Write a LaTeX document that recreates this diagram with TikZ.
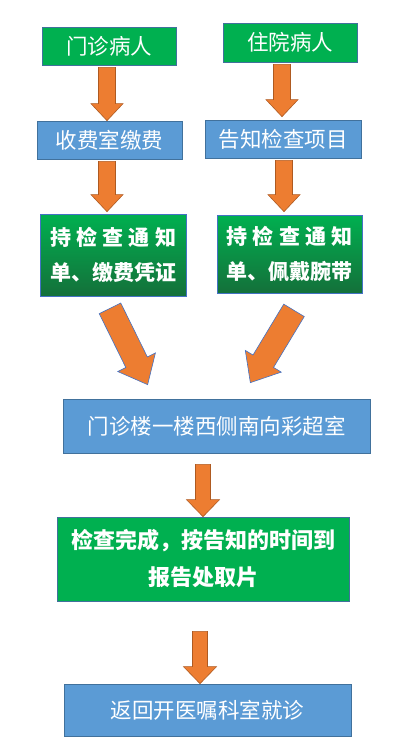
\documentclass[tikz,border=0pt]{standalone}
\usepackage{fontspec}
\newfontfamily\cjk{Noto Sans CJK SC}
\usetikzlibrary{calc}
\definecolor{boxgreen}{HTML}{00B050}
\definecolor{darkgreen}{HTML}{14703A}
\definecolor{boxblue}{HTML}{5B9BD5}
\definecolor{lineblue}{HTML}{41719C}
\definecolor{edgeblue}{HTML}{4472C4}
\definecolor{arroworange}{HTML}{ED7D31}
\definecolor{arrowline}{HTML}{AE5A21}
\tikzset{
  greenbox/.style={draw=lineblue, line width=0.7pt, fill=boxgreen, text=white, inner sep=0pt, font=\cjk\fontsize{21.5}{26}\selectfont},
  bluebox/.style={draw=lineblue, line width=0.7pt, fill=boxblue, text=white, inner sep=0pt, font=\cjk\fontsize{21.5}{26}\selectfont},
  shadebox/.style={draw=edgeblue, line width=0.7pt, top color=boxgreen, bottom color=darkgreen, text=white, inner sep=0pt, align=center, font=\cjk\bfseries\fontsize{21}{35}\selectfont},
  arrowbody/.style={fill=arroworange, draw=arrowline, line width=0.6pt, line join=miter},
}
% block arrow: [style]{tail}{tip}{shaft half width}{head half width}{head length}
\newcommand\flowarrow[6][]{%
  \coordinate (fa-base) at ($(#3)!#6!(#2)$);
  \filldraw[arrowbody,#1] ($(#2)!#4!90:(#3)$) -- ($(fa-base)!#4!90:(#3)$) -- ($(fa-base)!#5!90:(#3)$) -- (#3)
    -- ($(fa-base)!#5!-90:(#3)$) -- ($(fa-base)!#4!-90:(#3)$) -- ($(#2)!#4!-90:(#3)$) -- cycle;}
\newcommand\spreadrow[1]{\makebox[6em]{#1}}

\begin{document}
\begin{tikzpicture}[x=1pt,y=-1pt]
\useasboundingbox (0,0) rectangle (413,750);
\node[greenbox, minimum width=134pt, minimum height=38pt] (mz) at (109,46) {门诊病人};
\node[greenbox, minimum width=134pt, minimum height=39pt] (zy) at (290,42.5) {住院病人};
\node[bluebox, minimum width=145pt, minimum height=38pt] (jf) at (109.5,140) {收费室缴费};
\node[bluebox, minimum width=156pt, minimum height=38pt] (gz) at (283,139) {告知检查项目};
\node[shadebox, minimum width=146pt, minimum height=82pt] (pz) at (113,255) {\spreadrow{持\hfill 检\hfill 查\hfill 通\hfill 知}\\单、缴费凭证};
\node[shadebox, minimum width=145pt, minimum height=78pt] (wd) at (289.5,254) {\spreadrow{持\hfill 检\hfill 查\hfill 通\hfill 知}\\单、佩戴腕带};
\node[bluebox, minimum width=307pt, minimum height=54pt] (cs) at (216.5,426) {门诊楼一楼西侧南向彩超室};
\node[greenbox, align=center, font=\cjk\bfseries\fontsize{22}{37}\selectfont, minimum width=292pt, minimum height=84pt] (qp) at (203,559) {检查完成，按告知的时间到\\报告处取片};
\node[bluebox, minimum width=287pt, minimum height=52pt] (jz) at (207.5,710) {返回开医嘱科室就诊};
% arrow ends
\coordinate (t1) at ($(mz.south)+(-2,2)$);
\coordinate (h1) at (t1 |- jf.north);
\coordinate (t2) at ($(zy.south)+(-8,2)$);
\coordinate (h2) at ($(t2 |- gz.north)+(0,-3)$);
\coordinate (t3) at ($(jf.south)+(-2.5,2)$);
\coordinate (h3) at ($(t3 |- pz.north)+(0,-2)$);
\coordinate (t4) at ($(gz.south)+(1,2)$);
\coordinate (h4) at ($(t4 |- wd.north)+(0,-3)$);
\coordinate (tl) at ($(pz.south)+(-3,12)$);
\coordinate (hl) at ($(cs.north west)+(85,-14)$);
\coordinate (tr) at ($(wd.south)+(4.5,17)$);
\coordinate (hr) at ($(cs.north east)+(-120,-16)$);
\coordinate (t5) at ($(cs.south)+(-13.5,11)$);
\coordinate (h5) at (t5 |- qp.north);
\coordinate (t6) at ($(qp.south)+(-3,30)$);
\coordinate (h6) at (t6 |- jz.north);
\flowarrow{t1}{h1}{8.5pt}{16pt}{17pt}
\flowarrow{t2}{h2}{8.5pt}{16pt}{17pt}
\flowarrow{t3}{h3}{8.5pt}{16pt}{17pt}
\flowarrow{t4}{h4}{8.5pt}{16pt}{17pt}
\flowarrow[draw=edgeblue]{tl}{hl}{12pt}{21pt}{25pt}
\flowarrow[draw=edgeblue]{tr}{hr}{12pt}{21pt}{25pt}
\flowarrow{t5}{h5}{7.5pt}{16.5pt}{17pt}
\flowarrow{t6}{h6}{7.5pt}{16.5pt}{17pt}
\end{tikzpicture}
\end{document}
